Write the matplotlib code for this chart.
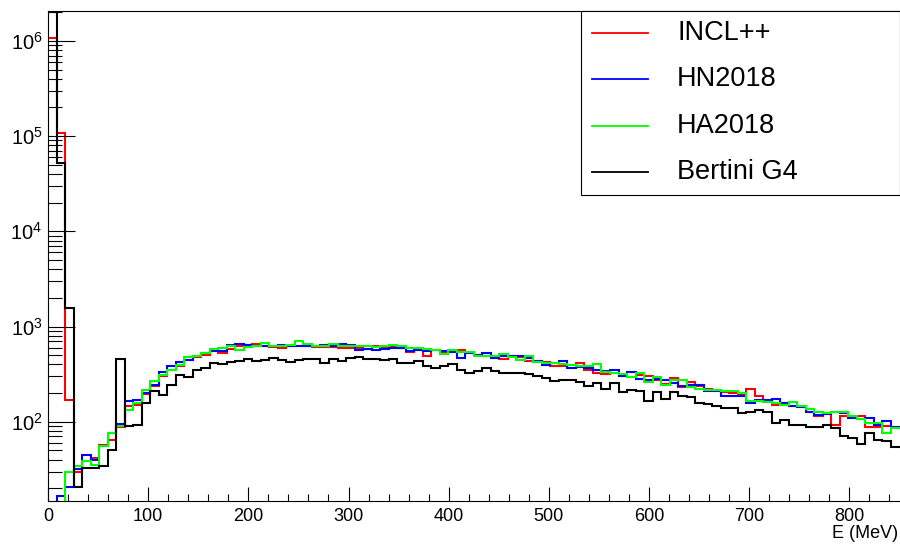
import matplotlib
matplotlib.use("Agg")
import matplotlib.pyplot as plt
from matplotlib.ticker import MultipleLocator, LogLocator, NullFormatter
from matplotlib.patches import Rectangle
from matplotlib.lines import Line2D
import numpy as np

plt.rcParams['font.family'] = ['Liberation Sans', 'DejaVu Sans']
plt.rcParams['mathtext.fontset'] = 'custom'
plt.rcParams['mathtext.rm'] = 'Liberation Sans'
plt.rcParams['mathtext.default'] = 'regular'

# 100 bins of 8.5 MeV, 0 - 850 MeV
edges = np.linspace(0, 850, 101)

incl = [1.08e6, 1.09e5, 171, 29.3, 38.3, 42, 57, 65, 88, 147,
        151, 197, 239, 305, 347, 382, 449, 480, 507, 551,
        528, 582, 631, 647, 662, 621, 606, 597, 621, 631,
        621, 606, 611, 611, 597, 597, 597, 587, 621, 611,
        621, 597, 537, 573, 487, 573, 537, 551, 564, 528,
        507, 495, 487, 457, 495, 480, 431, 431, 421, 382,
        388, 398, 414, 353, 326, 318, 326, 305, 295, 312,
        300, 277, 251, 288, 231, 259, 235, 218, 217, 203,
        200, 192, 221, 188, 164, 151, 158, 148, 143, 128,
        114, 123, 92, 114, 114, 116, 89, 88, 91, 88]

hn2018 = [0, 16.4, 20.8, 32, 44.9, 40, 56, 76, 95, 164,
          170, 202, 245, 331, 382, 421, 449, 487, 528, 551,
          551, 647, 657, 647, 631, 621, 631, 642, 631, 631,
          621, 621, 647, 621, 662, 647, 573, 582, 573, 582,
          597, 597, 551, 564, 551, 573, 551, 537, 469, 528,
          507, 528, 469, 495, 495, 487, 469, 431, 398, 414,
          431, 367, 376, 367, 347, 338, 353, 305, 331, 281,
          277, 281, 277, 255, 239, 245, 245, 208, 208, 188,
          188, 185, 158, 170, 168, 174, 158, 148, 143, 125,
          118, 121, 125, 123, 109, 107, 109, 93, 101, 88]

ha2018 = [0, 0, 29.8, 34.4, 38.8, 34.7, 55, 76, 91, 134,
          158, 213, 270, 312, 352, 398, 483, 495, 532, 574,
          597, 621, 573, 611, 621, 674, 621, 631, 647, 712,
          662, 631, 621, 662, 631, 621, 621, 621, 611, 631,
          647, 631, 597, 597, 582, 573, 520, 573, 537, 537,
          495, 495, 495, 516, 480, 449, 495, 421, 414, 414,
          408, 398, 382, 382, 408, 331, 326, 320, 295, 326,
          259, 295, 245, 272, 277, 231, 218, 217, 213, 208,
          208, 200, 164, 164, 161, 158, 151, 160, 148, 136,
          125, 123, 128, 125, 114, 107, 98, 98, 77, 85]

bertini = [2.03e6, 5.2e4, 1550, 20.7, 33, 33, 34.5, 51, 460, 91,
           93, 158, 212, 192, 245, 312, 298, 352, 370, 418,
           408, 421, 431, 457, 439, 449, 469, 442, 421, 442,
           457, 457, 414, 460, 431, 469, 483, 457, 457, 449,
           457, 414, 414, 431, 388, 368, 382, 408, 353, 328,
           338, 368, 338, 328, 328, 328, 318, 300, 289, 265,
           272, 272, 259, 239, 255, 218, 255, 203, 217, 208,
           164, 203, 174, 203, 188, 182, 158, 154, 145, 139,
           139, 123, 128, 134, 128, 98, 105, 93, 93, 88,
           88, 93, 86, 70, 67, 59, 77, 65, 62, 54]

labels = ['INCL++', 'HN2018', 'HA2018', 'Bertini G4']
colors = ['#ff0000', '#0000ff', '#00ff00', '#000000']
series = [incl, hn2018, ha2018, bertini]

W, H = 900, 544
fig = plt.figure(figsize=(W / 100, H / 100), dpi=100)
ax = fig.add_axes([48 / W, 43 / H, 851.5 / W, 490 / H])

for vals, c in zip(series, colors):
    ax.stairs(vals, edges, color=c, linewidth=1.5, baseline=None)

ax.set_yscale('log')
ax.set_xlim(0, 850)
ax.set_ylim(14.7, 2.06e6)

ax.xaxis.set_major_locator(MultipleLocator(100))
ax.xaxis.set_minor_locator(MultipleLocator(20))
ax.yaxis.set_major_locator(LogLocator(base=10))
ax.yaxis.set_minor_locator(LogLocator(base=10, subs=np.arange(2, 10)))
ax.yaxis.set_minor_formatter(NullFormatter())

ax.tick_params(axis='x', which='major', direction='in', length=10, width=0.8,
               labelsize=13, pad=5, top=False)
ax.tick_params(axis='x', which='minor', direction='in', length=5, width=0.8, top=False)
ax.tick_params(axis='y', which='major', direction='in', length=19.5, width=0.8,
               labelsize=14.5, pad=4, right=False)
ax.tick_params(axis='y', which='minor', direction='in', length=10, width=0.8, right=False)

ax.spines['right'].set_visible(False)
for s in ['left', 'bottom', 'top']:
    ax.spines[s].set_linewidth(0.8)

fig.text(898 / W, 1 - 542 / H, 'E (MeV)', ha='right', va='bottom', fontsize=13)

# legend box, drawn in figure pixels
def fx(x):
    return x / W

def fy(y):
    return 1 - y / H

box = Rectangle((fx(581), fy(195)), fx(900) - fx(581), fy(11) - fy(195),
                transform=fig.transFigure, facecolor='white', edgecolor='black',
                linewidth=0.8, zorder=10)
fig.patches.append(box)
rows = [33, 79, 126, 172]
for lab, c, r in zip(labels, colors, rows):
    fig.lines.append(Line2D([fx(592), fx(648)], [fy(r), fy(r)], color=c,
                            linewidth=1.3, transform=fig.transFigure, zorder=11))
    fig.text(fx(677), fy(r), lab, ha='left', va='center', fontsize=19.5, zorder=12)

fig.savefig('out.png', dpi=100)
